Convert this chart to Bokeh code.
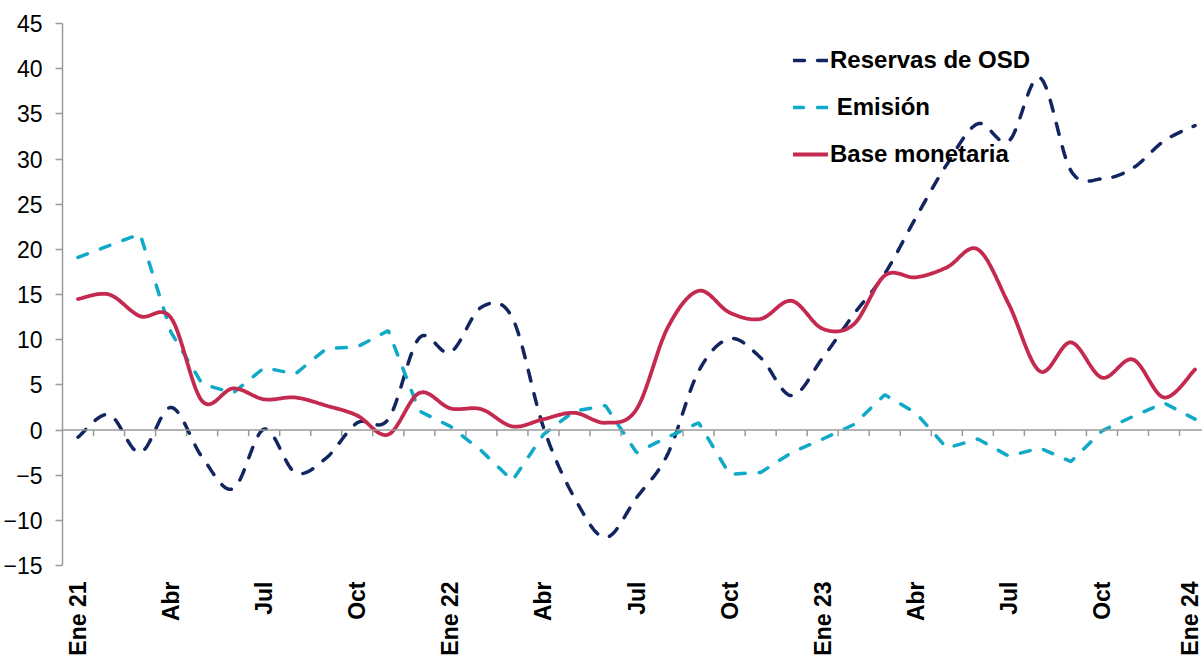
import math
import numpy as np
from bokeh.plotting import figure
from bokeh.models import Range1d, FixedTicker, Span, Legend, LegendItem, Label
from bokeh.embed import file_html
from bokeh.resources import INLINE

# ---- data (monthly, Ene 21 .. Ene 24) ----
months = ["Ene 21", "Feb 21", "Mar 21", "Abr 21", "May 21", "Jun 21", "Jul 21", "Ago 21", "Sep 21",
          "Oct 21", "Nov 21", "Dic 21", "Ene 22", "Feb 22", "Mar 22", "Abr 22", "May 22", "Jun 22",
          "Jul 22", "Ago 22", "Sep 22", "Oct 22", "Nov 22", "Dic 22", "Ene 23", "Feb 23", "Mar 23",
          "Abr 23", "May 23", "Jun 23", "Jul 23", "Ago 23", "Sep 23", "Oct 23", "Nov 23", "Dic 23", "Ene 24"]
tick_labels = ["Ene 21", "Abr", "Jul", "Oct", "Ene 22", "Abr", "Jul", "Oct",
               "Ene 23", "Abr", "Jul", "Oct", "Ene 24"]

reservas_osd = [-0.8, 1.7, -2.5, 2.5, -3.0, -6.5, 0.1, -4.7, -3.1, 0.8, 1.2, 10.2, 8.6,
                13.6, 12.4, 0.3, -7.5, -11.9, -7.5, -2.7, 6.5, 10.1, 8.0, 3.8, 8.0,
                12.8, 17.3, 23.5, 29.4, 33.9, 32.0, 39.0, 28.7, 27.8, 29.0, 32.0, 33.7]
emision = [19.1, 20.4, 21.7, 10.8, 5.1, 4.1, 6.9, 6.2, 9.0, 9.2, 11.0, 2.1, 0.4,
           -2.3, -5.6, -0.5, 2.1, 2.7, -2.5, -0.8, 0.8, -4.9, -4.7, -2.5, -1.0,
           0.6, 3.9, 1.9, -2.0, -1.0, -2.9, -2.0, -3.5, -0.1, 1.5, 3.0, 1.2]
base_monetaria = [14.5, 15.0, 12.6, 12.4, 3.2, 4.6, 3.4, 3.6, 2.7, 1.6, -0.5, 4.1, 2.4,
                  2.3, 0.4, 1.2, 1.9, 0.8, 2.3, 11.3, 15.4, 13.0, 12.3, 14.3, 11.2,
                  11.7, 17.1, 16.9, 18.0, 20.0, 13.9, 6.5, 9.7, 5.8, 7.8, 3.6, 6.7]

x = list(range(len(months)))


def smooth(xs, ys, n=24):
    """Spreadsheet-style smoothed line (cubic Bezier through each point)."""
    pts = list(zip(xs, ys))
    N = len(pts)
    ox, oy = [], []
    for i in range(N - 1):
        p0 = pts[i - 1] if i > 0 else pts[i]
        p1, p2 = pts[i], pts[i + 1]
        p3 = pts[i + 2] if i + 2 < N else pts[i + 1]
        c1 = (p1[0] + (p2[0] - p0[0]) / 6, p1[1] + (p2[1] - p0[1]) / 6)
        c2 = (p2[0] - (p3[0] - p1[0]) / 6, p2[1] - (p3[1] - p1[1]) / 6)
        ts = np.linspace(0, 1, n, endpoint=(i == N - 2))
        for t in ts:
            a, b, c, d = (1 - t) ** 3, 3 * (1 - t) ** 2 * t, 3 * (1 - t) * t ** 2, t ** 3
            ox.append(a * p1[0] + b * c1[0] + c * c2[0] + d * p2[0])
            oy.append(a * p1[1] + b * c1[1] + c * c2[1] + d * p2[1])
    return ox, oy


FONT = "Liberation Sans"
NAVY = "#132561"
CYAN = "#10a9c7"
RED = "#c42a50"
AXIS_GREY = "#9a9a9a"

p = figure(width=1202, height=659,
           x_range=Range1d(-0.5, 36.24), y_range=Range1d(-15, 45),
           output_backend="svg", toolbar_location=None,
           min_border_left=62, min_border_right=0, min_border_top=23, min_border_bottom=94)
p.background_fill_color = "white"
p.border_fill_color = "white"
p.outline_line_color = None
p.xgrid.visible = False
p.ygrid.visible = False

# y axis
ya = p.yaxis[0]
ya.ticker = FixedTicker(ticks=list(range(-15, 50, 5)))
ya.axis_line_color = AXIS_GREY
ya.axis_line_width = 1.5
ya.major_tick_line_color = AXIS_GREY
ya.major_tick_line_width = 1.5
ya.major_tick_out = 7
ya.major_tick_in = 0
ya.minor_tick_line_color = None
ya.major_label_standoff = 13
ya.major_label_text_font = FONT
ya.major_label_text_font_size = "23px"
ya.major_label_text_color = "black"

# x axis (category labels every 3 months)
xa = p.xaxis[0]
tick_pos = list(range(0, len(months), 3))
xa.ticker = FixedTicker(ticks=tick_pos)
xa.major_label_overrides = {t: lab for t, lab in zip(tick_pos, tick_labels)}
xa.axis_line_color = None
xa.major_tick_line_color = None
xa.minor_tick_line_color = None
xa.major_tick_out = 0
xa.major_tick_in = 0
xa.major_label_standoff = 16
xa.major_label_orientation = math.pi / 2
xa.major_label_text_font = FONT
xa.major_label_text_font_size = "23px"
xa.major_label_text_font_style = "bold"
xa.major_label_text_color = "black"

# zero line with category-boundary ticks
p.add_layout(Span(location=0, dimension="width", line_color=AXIS_GREY, line_width=1.5))
bx = [i + 0.5 for i in range(len(months) - 1)]
p.segment(x0=bx, y0=[0] * len(bx), x1=bx, y1=[-0.68] * len(bx),
          line_color=AXIS_GREY, line_width=1.5)

# series
sx, sy = smooth(x, reservas_osd)
r_res = p.line(sx, sy, line_color=NAVY, line_width=3.5, line_dash="11 13", line_cap="round")
r_emi = p.line(x, emision, line_color=CYAN, line_width=3.5, line_dash="10 14", line_cap="round")
bx2, by2 = smooth(x, base_monetaria)
r_base = p.line(bx2, by2, line_color=RED, line_width=3.8, line_cap="round")

legend = Legend(items=[
    LegendItem(label="Reservas de OSD", renderers=[r_res]),
    LegendItem(label="\u00a0Emisión", renderers=[r_emi]),
    LegendItem(label="Base monetaria", renderers=[r_base]),
], location=(731, 389), padding=0, margin=0, spacing=3,
    glyph_width=35, glyph_height=44, label_height=44, label_standoff=2,
    label_text_font=FONT, label_text_font_size="24px", label_text_font_style="bold",
    label_text_color="black", background_fill_alpha=0, border_line_alpha=0)
p.add_layout(legend)

title = Label(x=555, y=560, x_units="screen", y_units="screen",
              text="Tasas de variación interanuales (%)", text_align="center",
              text_baseline="alphabetic", text_font=FONT, text_font_size="23px",
              text_font_style="bold", text_color="black")
p.add_layout(title)

open("out.html", "w").write(file_html(p, INLINE))
